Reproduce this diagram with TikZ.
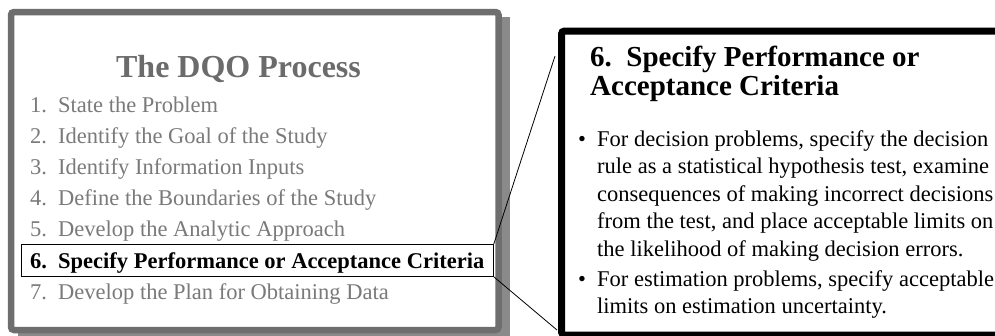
\documentclass[tikz,border=0pt]{standalone}
\usepackage{fontspec}
\setmainfont{Liberation Serif}
\definecolor{framegray}{HTML}{6E6E6E}
\definecolor{shadowgray}{HTML}{8A8A8A}
\definecolor{titlegray}{HTML}{6B6B6B}
\definecolor{itemgray}{HTML}{7A7A7A}
\tikzset{
  itemtxt/.style={anchor=base west, inner sep=0pt, text=itemgray, font=\fontsize{22.5}{27}\selectfont},
  curtxt/.style={anchor=base west, inner sep=0pt, text=black, font=\fontsize{22.5}{27}\bfseries\selectfont},
  headtxt/.style={anchor=base west, inner sep=0pt, text=black, font=\fontsize{29}{29}\bfseries\selectfont},
  bodytxt/.style={anchor=base west, inner sep=0pt, text=black, font=\fontsize{22.5}{27}\selectfont},
  zoomline/.style={draw=black, line width=0.8pt},
}
\begin{document}
\begin{tikzpicture}[x=1pt, y=-1pt]
\useasboundingbox (0,0) rectangle (995,335);
\clip (0,0) rectangle (995,335);
% left panel
\fill[shadowgray] (18,17) rectangle (510,345);
\draw[framegray, fill=white, line width=6.5pt, rounded corners=3pt] (11,12) rectangle (498.5,330);
\node[anchor=base, inner sep=0pt, text=titlegray, font=\fontsize{32}{32}\bfseries\selectfont] (title) at (238.5,77) {The DQO Process};
\foreach \n/\t [count=\k] in {1/{State the Problem}, 2/{Identify the Goal of the Study}, 3/{Identify Information Inputs}, 4/{Define the Boundaries of the Study}, 5/{Develop the Analytic Approach}} {
  \node[itemtxt] (num\k) at (30,{112+31.2*(\k-1)}) {\n.};
  \node[itemtxt] (item\k) at (58,{112+31.2*(\k-1)}) {\t};
}
\node[curtxt] (num6) at (30,268) {6.};
\node[curtxt] (item6) at (58,268) {Specify Performance or Acceptance Criteria};
\node[itemtxt] (num7) at (30,299.2) {7.};
\node[itemtxt] (item7) at (58,299.2) {Develop the Plan for Obtaining Data};
% highlight box
\node[draw=black, line width=0.8pt, fill=none, minimum width=472pt, minimum height=32pt, inner sep=0pt, anchor=north west] (hl) at (21,244) {};
% right panel
\node[draw=black, fill=white, line width=7pt, rounded corners=3pt, minimum width=450pt, minimum height=304pt, inner sep=0pt, anchor=north west] (rb) at (558,27.5) {};
\coordinate (rbtop) at (555,56);
\coordinate (rbbot) at (557,330);
\draw[zoomline] (hl.north east) -- (rbtop);
\draw[zoomline] (hl.south east) -- (rbbot);
\node[headtxt] (h1) at (590,66) {6.\ \ Specify Performance or};
\node[headtxt] (h2) at (590,95) {Acceptance Criteria};
\node[bodytxt] (b1) at (578,146) {\textbullet};
\node[bodytxt] (b2) at (578,286) {\textbullet};
\foreach \t [count=\k] in {{For decision problems, specify the decision}, {rule as a statistical hypothesis test, examine}, {consequences of making incorrect decisions}, {from the test, and place acceptable limits on}, {the likelihood of making decision errors.}} {
  \node[bodytxt] (l\k) at (597,{146+27.5*(\k-1)}) {\t};
}
\node[bodytxt] (m1) at (597,286) {For estimation problems, specify acceptable};
\node[bodytxt] (m2) at (597,313.5) {limits on estimation uncertainty.};
\end{tikzpicture}
\end{document}
